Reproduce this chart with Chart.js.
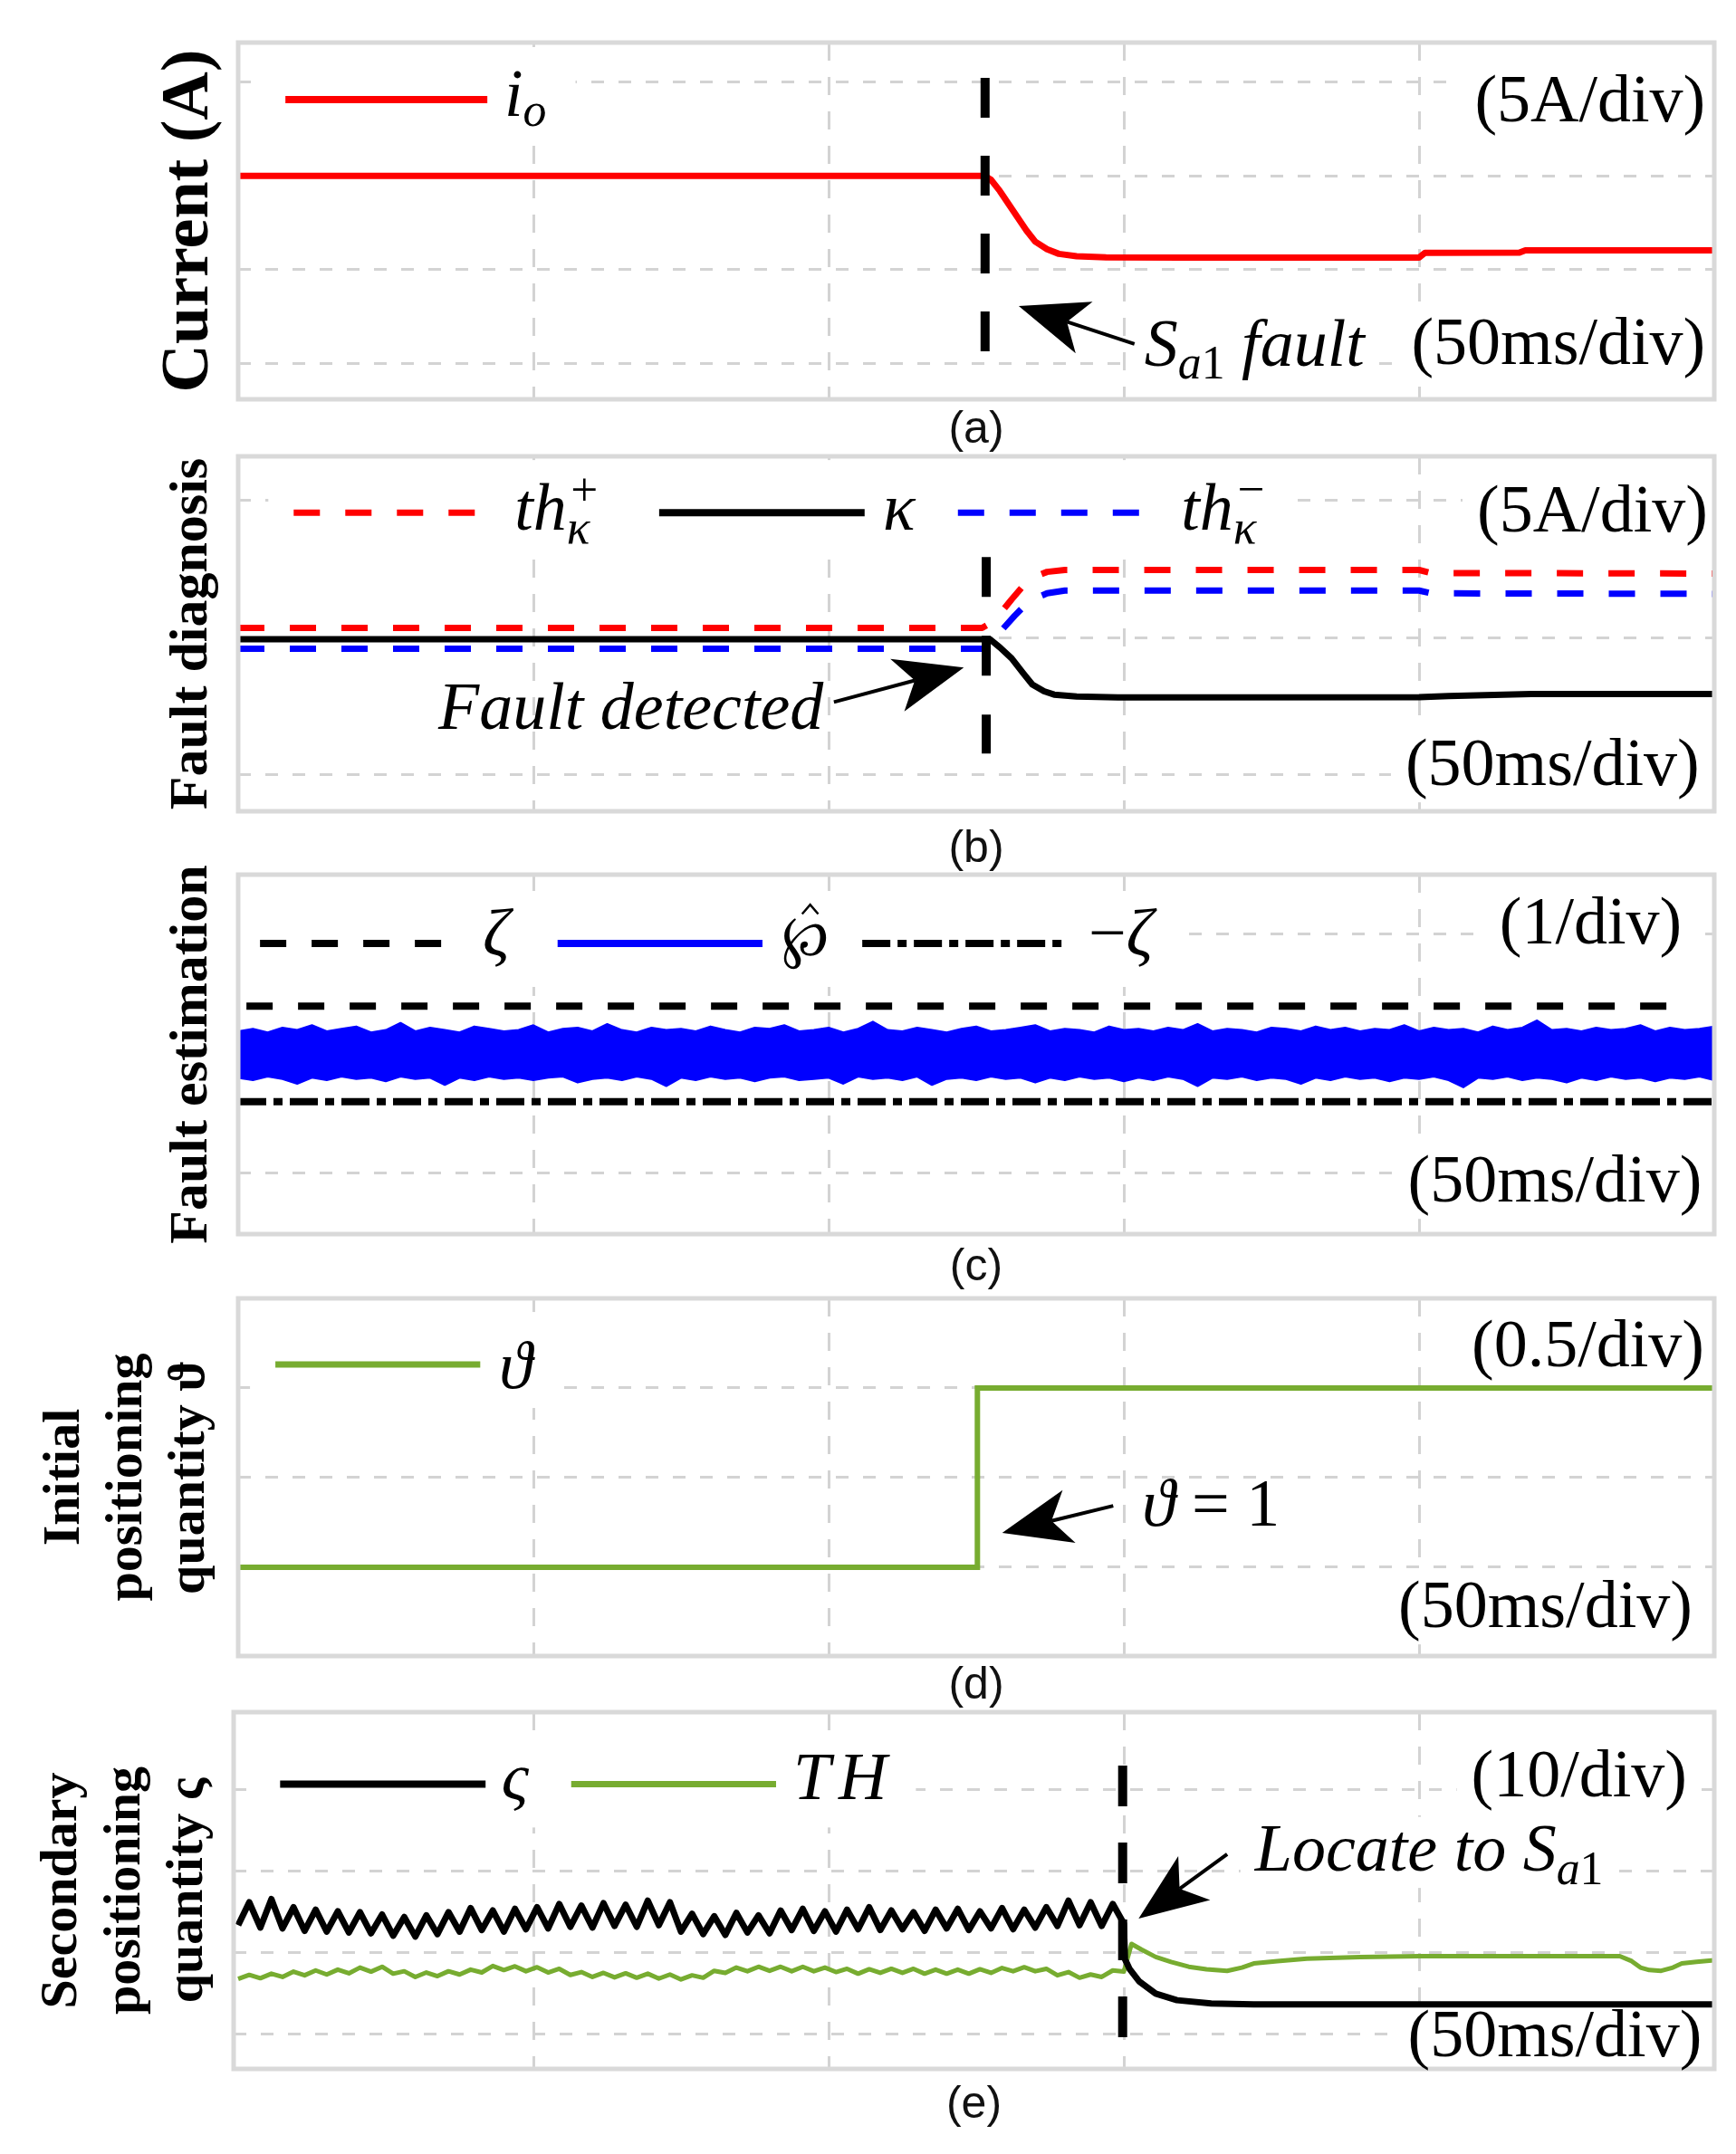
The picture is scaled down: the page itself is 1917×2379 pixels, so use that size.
<!DOCTYPE html>
<html><head><meta charset="utf-8"><title>Fault diagnosis and location</title>
<script src="https://cdn.jsdelivr.net/npm/chart.js@4.4.1/dist/chart.umd.min.js"></script>
<style>
html,body{margin:0;padding:0;background:#fff;overflow:hidden;}
#wrap{position:relative;width:1917px;height:2379px;background:#fff;}
#wrap canvas{position:absolute;left:0;}
</style></head>
<body><div id="wrap"></div>
<script>
// ================= DATA =================
const timeGridMs = [50, 100, 150, 200];
const timeEndMs = 250;

// (a) output current i_o (A)
const ioTime  = [0,126.5,127.5,129,130.5,132,133.5,135,137,139,142,147,160,200,201,217,218,250];
const ioValue = [10,10,9.8,9.2,8.5,7.8,7.1,6.5,6.1,5.85,5.72,5.66,5.65,5.65,5.9,5.92,6.04,6.04];
const gridA = [0,5,10,15];
const faultTimeA = 126.5;
const faultSpanA = [15.23, 0.23];

// (b) fault diagnosis
const thPlusTime  = [0,126,128,131,134,137,140,200,202,250];
const thPlusValue = [5.36,5.36,5.6,6.4,7.15,7.4,7.47,7.47,7.36,7.34];
const thMinusTime  = [0,126.5,129,131.5,134,137,140,200,202,250];
const thMinusValue = [4.6,4.6,5.2,5.8,6.35,6.62,6.72,6.72,6.62,6.6];
const kappaTime  = [0,127.3,129,131,133,134.5,136.5,138.2,142,149,200,205,219,250];
const kappaValue = [4.95,4.95,4.65,4.25,3.7,3.3,3.05,2.93,2.86,2.83,2.84,2.88,2.95,2.95];
const gridB = [0,5,10];
const faultTimeB = 126.7;
const faultSpanB = [7.94, 0.78];

// (c) fault estimation
const zetaTime = [1.4, 245.9];
const zetaValue = [0.4, 0.4];
const negZetaTime = [0, 250];
const negZetaValue = [-0.4, -0.4];
const estStepMs = 2.5;
const estUpper = [
 0.19,0.21,0.18,0.22,0.20,0.24,0.19,0.21,0.23,0.18,
 0.20,0.26,0.19,0.22,0.20,0.18,0.23,0.21,0.19,0.20,
 0.24,0.18,0.21,0.22,0.19,0.25,0.20,0.18,0.22,0.20,
 0.21,0.19,0.23,0.20,0.18,0.22,0.21,0.24,0.19,0.20,
 0.22,0.18,0.21,0.27,0.20,0.19,0.22,0.20,0.18,0.21,
 0.23,0.19,0.20,0.22,0.24,0.19,0.21,0.20,0.18,0.23,
 0.20,0.21,0.19,0.22,0.20,0.25,0.19,0.21,0.20,0.18,
 0.22,0.21,0.19,0.23,0.20,0.22,0.19,0.21,0.20,0.24,
 0.19,0.22,0.20,0.21,0.18,0.23,0.20,0.22,0.28,0.20,
 0.21,0.19,0.22,0.20,0.21,0.24,0.19,0.22,0.20,0.21,
 0.23];
const estLower = [
 -0.20,-0.22,-0.19,-0.21,-0.25,-0.20,-0.22,-0.19,-0.21,-0.20,
 -0.23,-0.19,-0.21,-0.20,-0.26,-0.20,-0.22,-0.19,-0.21,-0.20,
 -0.22,-0.20,-0.19,-0.24,-0.21,-0.20,-0.22,-0.19,-0.21,-0.27,
 -0.20,-0.22,-0.19,-0.21,-0.20,-0.23,-0.20,-0.19,-0.22,-0.21,
 -0.20,-0.25,-0.19,-0.21,-0.20,-0.22,-0.19,-0.26,-0.21,-0.20,
 -0.22,-0.19,-0.21,-0.20,-0.24,-0.20,-0.22,-0.19,-0.21,-0.20,
 -0.23,-0.20,-0.22,-0.19,-0.21,-0.27,-0.20,-0.21,-0.19,-0.22,
 -0.20,-0.21,-0.25,-0.20,-0.22,-0.19,-0.21,-0.20,-0.23,-0.20,
 -0.21,-0.19,-0.22,-0.28,-0.20,-0.21,-0.19,-0.22,-0.20,-0.21,
 -0.24,-0.20,-0.22,-0.19,-0.21,-0.20,-0.23,-0.20,-0.21,-0.19,
 -0.22];
const gridC = [-1,0,1];

// (d) initial positioning quantity
const thetaTime  = [0,125.2,125.2,250];
const thetaValue = [0,0,1,1];
const gridD = [0,0.5,1];

// (e) secondary positioning quantity
const secStepMs = 1.875;
const sigmaPre = [
 13.4,16.2,13.1,16.6,13.0,15.6,12.7,15.3,12.6,15.1,
 12.5,15.0,12.4,14.7,12.1,14.4,12.0,14.6,12.3,15.0,
 12.6,15.5,12.8,15.2,12.6,15.4,12.9,15.6,13.0,16.0,
 13.2,15.8,13.1,16.1,13.3,15.9,13.2,16.4,13.4,16.2,
 12.6,14.8,12.3,14.5,12.2,14.9,12.5,14.6,12.4,15.2,
 12.8,15.4,12.7,15.1,12.6,15.3,12.9,15.6,12.8,15.2,
 12.9,15.0,12.7,15.3,13.0,15.4,12.8,15.1,13.0,15.5,
 12.9,15.3,13.1,15.6,13.3,16.4,13.4,16.2,13.3,16.0,
 13.6];
const sigmaPostTime  = [150.2,151,152.6,155.4,159,164.8,172,250];
const sigmaPostValue = [9.2,8.0,6.5,5.0,4.2,3.8,3.7,3.7];
const thPre = [
 6.8,7.3,6.9,7.45,7.05,7.7,7.25,7.85,7.35,7.95,
 7.5,8.2,7.7,8.3,7.45,7.75,7.05,7.6,7.15,7.75,
 7.35,7.95,7.6,8.4,7.9,8.35,7.75,8.25,7.6,8.05,
 7.3,7.65,7.05,7.55,7.0,7.5,6.95,7.45,6.85,7.35,
 6.75,7.25,6.95,7.8,7.55,8.2,7.75,8.3,7.8,8.3,
 7.75,8.3,7.75,8.2,7.65,8.05,7.45,8.0,7.55,8.05,
 7.55,8.05,7.45,7.95,7.45,7.95,7.45,8.0,7.55,8.15,
 7.75,8.25,7.75,8.05,7.25,7.65,6.95,7.35,7.05,7.85,
 7.7];
const thPostTime  = [151.3,153,155.4,158,161,164,167.5,170,172,176,181,190,200,234,236,237.5,239,241,243,244.5,247,250];
const thPostValue = [11.1,10.4,9.5,8.9,8.3,8.0,7.8,8.2,8.7,9.0,9.3,9.5,9.6,9.6,9.0,8.2,7.9,7.8,8.2,8.7,8.9,9.1];
const gridE = [0,10,20,30];
const faultTimeE = 149.8;
const faultSpanE = [32.96, -0.9];

// ================= HELPERS =================
const RED = '#ff0000', BLUE = '#0000ff', GREEN = '#77ac30', BLACK = '#000000';
const SERIF = '"Liberation Serif","Times New Roman",serif';
const SANS = '"Liberation Sans",Arial,sans-serif';
const TXT = 74;

function xy(t, v) { return t.map((x, i) => ({ x: x, y: v[i] })); }
function sampleTimes(n, step) { const out = []; for (let i = 0; i < n; i++) out.push(i * step); return out; }

function segFont(s, size) { return (s.i ? 'italic ' : '') + (size * (s.s || 1)).toFixed(1) + 'px ' + SERIF; }
function richWidth(ctx, segs, size) {
  let w = 0;
  for (const s of segs) {
    if (s.stack) {
      const ss = size * 0.72;
      ctx.font = 'italic ' + ss + 'px ' + SERIF; const a = ctx.measureText(s.stack.sub).width;
      ctx.font = ss + 'px ' + SERIF; const b = ctx.measureText(s.stack.sup).width;
      w += Math.max(a, b + size * 0.06);
    } else {
      ctx.font = segFont(s, size);
      w += ctx.measureText(s.t).width + (s.gap || 0) * size;
    }
  }
  return w;
}
function drawRich(ctx, segs, x, y, size, align) {
  const w = richWidth(ctx, segs, size);
  let cx = align === 'right' ? x - w : x;
  ctx.textBaseline = 'alphabetic'; ctx.textAlign = 'left'; ctx.fillStyle = '#000';
  for (const s of segs) {
    if (s.stack) {
      const ss = size * 0.72;
      ctx.font = 'italic ' + ss + 'px ' + SERIF; const a = ctx.measureText(s.stack.sub).width;
      ctx.fillText(s.stack.sub, cx, y + 0.2 * size);
      ctx.font = ss + 'px ' + SERIF; const b = ctx.measureText(s.stack.sup).width;
      ctx.fillText(s.stack.sup, cx + size * 0.06, y - 0.36 * size);
      cx += Math.max(a, b + size * 0.06);
    } else {
      cx += (s.gap || 0) * size;
      ctx.font = segFont(s, size);
      const m = ctx.measureText(s.t);
      const mw = m.width;
      const ty = y + (s.dy || 0) * size;
      ctx.fillText(s.t, cx, ty);
      if (s.hat) {
        const asc = m.actualBoundingBoxAscent || 0.55 * size;
        const hx = cx + mw * 0.6;
        const base = ty - asc - 0.06 * size;
        ctx.save();
        ctx.setLineDash([]); ctx.strokeStyle = '#000'; ctx.lineWidth = 2.5; ctx.lineJoin = 'miter';
        ctx.beginPath();
        ctx.moveTo(hx - 0.12 * size, base);
        ctx.lineTo(hx, base - 0.14 * size);
        ctx.lineTo(hx + 0.12 * size, base);
        ctx.stroke();
        ctx.restore();
      }
      cx += mw;
    }
  }
  return w;
}
function drawArrow(ctx, x1, y1, x2, y2) {
  const dx = x2 - x1, dy = y2 - y1, len = Math.hypot(dx, dy);
  const ux = dx / len, uy = dy / len, nx = -uy, ny = ux;
  const L = 76, W = 30, N = 20;
  const bx = x2 - ux * L, by = y2 - uy * L, mx = x2 - ux * (L - N), my = y2 - uy * (L - N);
  ctx.setLineDash([]); ctx.strokeStyle = '#000'; ctx.lineWidth = 4;
  ctx.beginPath(); ctx.moveTo(x1, y1); ctx.lineTo(mx, my); ctx.stroke();
  ctx.fillStyle = '#000';
  ctx.beginPath(); ctx.moveTo(x2, y2); ctx.lineTo(bx + nx * W, by + ny * W); ctx.lineTo(mx, my); ctx.lineTo(bx - nx * W, by - ny * W); ctx.closePath(); ctx.fill();
}

const annotPlugin = {
  id: 'annot',
  beforeDatasetsDraw(chart, args, o) {
    const ctx = chart.ctx, x = chart.scales.x, y = chart.scales.y;
    ctx.save(); ctx.fillStyle = '#fff';
    if (o.legend) {
      const L = o.legend, last = L.items[L.items.length - 1];
      const x0 = x.getPixelForValue(L.items[0].x0) - 28;
      const x1 = x.getPixelForValue(last.lx) + richWidth(ctx, last.label, TXT) + 32;
      const yc = y.getPixelForValue(L.y);
      ctx.fillRect(x0, yc - 58, x1 - x0, 106);
    }
    for (const t of (o.texts || [])) {
      if (t.noBox) continue;
      const w = richWidth(ctx, t.segs, TXT);
      const px = x.getPixelForValue(t.x), py = y.getPixelForValue(t.y);
      const left = t.align === 'right' ? px - w : px;
      ctx.fillRect(left - 16, py - 0.8 * TXT, w + 32, 1.06 * TXT);
    }
    ctx.restore();
  },
  afterDatasetsDraw(chart, args, o) {
    const ctx = chart.ctx, a = chart.chartArea, x = chart.scales.x, y = chart.scales.y;
    ctx.save();
    ctx.setLineDash([]); ctx.strokeStyle = '#d9d9d9'; ctx.lineWidth = 5;
    ctx.strokeRect(a.left, a.top, a.right - a.left, a.bottom - a.top);
    if (o.legend) {
      const L = o.legend, yc = y.getPixelForValue(L.y), yl = y.getPixelForValue(L.ly);
      for (const it of L.items) {
        ctx.save();
        ctx.strokeStyle = it.color; ctx.lineWidth = it.width; ctx.lineCap = 'butt';
        ctx.setLineDash(it.dash || []);
        ctx.beginPath(); ctx.moveTo(x.getPixelForValue(it.x0), yc); ctx.lineTo(x.getPixelForValue(it.x1), yc); ctx.stroke();
        ctx.restore();
        drawRich(ctx, it.label, x.getPixelForValue(it.lx), yl, TXT, 'left');
      }
    }
    for (const t of (o.texts || [])) {
      drawRich(ctx, t.segs, x.getPixelForValue(t.x), y.getPixelForValue(t.y), TXT, t.align);
    }
    for (const ar of (o.arrows || [])) {
      drawArrow(ctx, x.getPixelForValue(ar.from[0]), y.getPixelForValue(ar.from[1]),
                     x.getPixelForValue(ar.to[0]), y.getPixelForValue(ar.to[1]));
    }
    ctx.restore();
  }
};

const wrap = document.getElementById('wrap');
const PAD_TOP = 10, X_AXIS_H = 80, RIGHT = 1893, CW = 1917;
function makePanel(p) {
  const cv = document.createElement('canvas');
  const h = p.bottom - p.top + PAD_TOP + X_AXIS_H;
  cv.width = CW; cv.height = h;
  cv.style.width = CW + 'px'; cv.style.height = h + 'px';
  cv.style.top = (p.top - PAD_TOP) + 'px';
  wrap.appendChild(cv);
  return new Chart(cv.getContext('2d'), {
    type: 'line',
    data: { datasets: p.datasets },
    plugins: [annotPlugin],
    options: {
      responsive: false, animation: false, events: [],
      layout: { padding: { top: PAD_TOP, right: CW - RIGHT, bottom: 0, left: 0 } },
      elements: { point: { radius: 0, hoverRadius: 0 }, line: { tension: 0, borderJoinStyle: 'round', borderCapStyle: 'butt', fill: false } },
      plugins: { legend: { display: false }, tooltip: { enabled: false }, annot: p.annot },
      scales: {
        x: {
          type: 'linear', min: p.xMin, max: timeEndMs,
          afterBuildTicks: s => { s.ticks = timeGridMs.map(v => ({ value: v })); },
          afterFit: s => { s.height = X_AXIS_H; },
          ticks: { display: false },
          grid: { color: '#d3d3d3', lineWidth: 3, drawTicks: false },
          border: { display: false, dash: [20, 18] },
          title: { display: true, text: p.label, color: '#111', font: { family: SANS, size: 50, lineHeight: 1.2 },
                   padding: { top: 0, bottom: X_AXIS_H - p.labelOff - 30 } }
        },
        y: {
          type: 'linear', min: p.yMin, max: p.yMax,
          afterBuildTicks: s => { s.ticks = p.yGrid.map(v => ({ value: v })); },
          afterFit: s => { s.width = p.left; },
          ticks: { display: false },
          grid: { color: '#d3d3d3', lineWidth: 3, drawTicks: false },
          border: { display: false, dash: [14, 16] },
          title: { display: true, text: p.yTitle, color: '#000',
                   font: { family: SERIF, size: p.yTitleSize, weight: 'bold', lineHeight: p.yTitleLH },
                   padding: { top: p.yTitlePad, bottom: 0 } }
        }
      }
    }
  });
}

// ---- (a) ----
makePanel({
  top: 47, bottom: 441, left: 263, xMin: 0, yMin: -1.9, yMax: 17.11, yGrid: gridA,
  yTitle: 'Current (A)', yTitleSize: 74, yTitleLH: 1.2, yTitlePad: 165.6,
  label: '(a)', labelOff: 34,
  datasets: [
    { data: xy([faultTimeA, faultTimeA], faultSpanA), borderColor: BLACK, borderWidth: 10, borderDash: [44, 42] },
    { data: xy(ioTime, ioValue), borderColor: RED, borderWidth: 7 }
  ],
  annot: {
    legend: { y: 14.07, ly: 13.2, items: [
      { x0: 8.0, x1: 42.2, color: RED, width: 8, lx: 45.1, label: [{ t: 'i', i: 1 }, { t: 'o', i: 1, s: 0.7, dy: 0.15 }] }
    ] },
    texts: [
      { x: 248.5, y: 12.9, align: 'right', segs: [{ t: '(5A/div)' }] },
      { x: 248.5, y: 0, align: 'right', segs: [{ t: '(50ms/div)' }] },
      { x: 153.5, y: -0.1, align: 'left', segs: [{ t: 'S', i: 1 }, { t: 'a', i: 1, s: 0.7, dy: 0.2 }, { t: '1', s: 0.7, dy: 0.2 }, { t: ' fault', i: 1 }] }
    ],
    arrows: [{ from: [151.8, 1.05], to: [132.2, 3.07] }]
  }
});

// ---- (b) ----
makePanel({
  top: 504, bottom: 896, left: 263, xMin: 0, yMin: -1.32, yMax: 11.61, yGrid: gridB,
  yTitle: 'Fault diagnosis', yTitleSize: 60, yTitleLH: 1.2, yTitlePad: 176,
  label: '(b)', labelOff: 42,
  datasets: [
    { data: xy([faultTimeB, faultTimeB], faultSpanB), borderColor: BLACK, borderWidth: 10, borderDash: [44, 43] },
    { data: xy(kappaTime, kappaValue), borderColor: BLACK, borderWidth: 7 },
    { data: xy(thPlusTime, thPlusValue), borderColor: RED, borderWidth: 7, borderDash: [29, 28] },
    { data: xy(thMinusTime, thMinusValue), borderColor: BLUE, borderWidth: 7, borderDash: [29, 28] }
  ],
  annot: {
    legend: { y: 9.56, ly: 8.94, items: [
      { x0: 9.4, x1: 40.5, color: RED, width: 7, dash: [29, 28], lx: 46.8, label: [{ t: 'th', i: 1 }, { stack: { sup: '+', sub: 'κ' } }] },
      { x0: 71.3, x1: 106.1, color: BLACK, width: 8, lx: 109.2, label: [{ t: 'κ', i: 1 }] },
      { x0: 121.9, x1: 153.4, color: BLUE, width: 7, dash: [29, 28], lx: 159.7, label: [{ t: 'th', i: 1 }, { stack: { sup: '−', sub: 'κ' } }] }
    ] },
    texts: [
      { x: 248.9, y: 8.87, align: 'right', segs: [{ t: '(5A/div)' }] },
      { x: 247.5, y: -0.36, align: 'right', segs: [{ t: '(50ms/div)' }] },
      { x: 33.9, y: 1.68, align: 'left', noBox: true, segs: [{ t: 'Fault detected', i: 1 }] }
    ],
    arrows: [{ from: [100.9, 2.66], to: [122.9, 3.92] }]
  }
});

// ---- (c) ----
const estTime = sampleTimes(Math.min(estUpper.length, estLower.length), estStepMs);
makePanel({
  top: 966, bottom: 1363, left: 263, xMin: 0, yMin: -1.508, yMax: 1.5, yGrid: gridC,
  yTitle: 'Fault estimation', yTitleSize: 60, yTitleLH: 1.2, yTitlePad: 176,
  label: '(c)', labelOff: 37,
  datasets: [
    { data: xy(zetaTime, zetaValue), borderColor: BLACK, borderWidth: 8, borderDash: [29, 28] },
    { data: xy(negZetaTime, negZetaValue), borderColor: BLACK, borderWidth: 8, borderDash: [31, 8, 10, 8] },
    { data: xy(estTime, estUpper), borderColor: BLUE, borderWidth: 2, backgroundColor: BLUE, fill: '+1' },
    { data: xy(estTime, estLower), borderColor: BLUE, borderWidth: 2 }
  ],
  annot: {
    legend: { y: 0.924, ly: 0.826, items: [
      { x0: 3.7, x1: 35.1, color: BLACK, width: 8, dash: [29, 28], lx: 41.4, label: [{ t: 'ζ', i: 1 }] },
      { x0: 54.1, x1: 88.8, color: BLUE, width: 8, lx: 92, label: [{ t: '℘', s: 0.85, hat: 1 }] },
      { x0: 105.7, x1: 140.2, color: BLACK, width: 8, dash: [31, 8, 10, 8], lx: 144, label: [{ t: '−' }, { t: 'ζ', i: 1 }] }
    ] },
    texts: [
      { x: 244.5, y: 0.924, align: 'right', segs: [{ t: '(1/div)' }] },
      { x: 247.9, y: -1.235, align: 'right', segs: [{ t: '(50ms/div)' }] }
    ]
  }
});

// ---- (d) ----
makePanel({
  top: 1434, bottom: 1829, left: 263, xMin: 0, yMin: -0.495, yMax: 1.5, yGrid: gridD,
  yTitle: ['Initial', 'positioning', 'quantity ϑ'], yTitleSize: 58, yTitleLH: 1.19, yTitlePad: 37.5,
  label: '(d)', labelOff: 33,
  datasets: [
    { data: xy(thetaTime, thetaValue), borderColor: GREEN, borderWidth: 6, borderJoinStyle: 'miter' }
  ],
  annot: {
    legend: { y: 1.131, ly: 1.0, items: [
      { x0: 6.3, x1: 41, color: GREEN, width: 7, lx: 44.2, label: [{ t: 'ϑ', i: 1 }] }
    ] },
    texts: [
      { x: 248.3, y: 1.121, align: 'right', segs: [{ t: '(0.5/div)' }] },
      { x: 246.3, y: -0.333, align: 'right', segs: [{ t: '(50ms/div)' }] },
      { x: 153.1, y: 0.232, align: 'left', noBox: true, segs: [{ t: 'ϑ', i: 1 }, { t: ' = 1' }] }
    ],
    arrows: [{ from: [148.2, 0.343], to: [129.4, 0.192] }]
  }
});

// ---- (e) ----
const secTime = sampleTimes(sigmaPre.length, secStepMs);
makePanel({
  top: 1891, bottom: 2285, left: 258, xMin: -0.77, yMin: -4.22, yMax: 39.51, yGrid: gridE,
  yTitle: ['Secondary', 'positioning', 'quantity ς'], yTitleSize: 58, yTitleLH: 1.19, yTitlePad: 35,
  label: '(e)', labelOff: 40,
  datasets: [
    { data: xy([faultTimeE, faultTimeE], faultSpanE), borderColor: BLACK, borderWidth: 10, borderDash: [45, 40] },
    { data: xy(secTime.concat(sigmaPostTime), sigmaPre.concat(sigmaPostValue)), borderColor: BLACK, borderWidth: 7 },
    { data: xy(secTime.concat(thPostTime), thPre.concat(thPostValue)), borderColor: GREEN, borderWidth: 5 }
  ],
  annot: {
    legend: { y: 30.7, ly: 28.9, items: [
      { x0: 7.1, x1: 41.9, color: BLACK, width: 8, lx: 44.6, label: [{ t: 'ς', i: 1 }] },
      { x0: 56.4, x1: 91.1, color: GREEN, width: 7, lx: 94, label: [{ t: 'T', i: 1 }, { t: 'H', i: 1, gap: 0.12 }] }
    ] },
    texts: [
      { x: 245.4, y: 29.2, align: 'right', segs: [{ t: '(10/div)' }] },
      { x: 247.9, y: -2.66, align: 'right', segs: [{ t: '(50ms/div)' }] },
      { x: 172.2, y: 20.1, align: 'left', segs: [{ t: 'Locate to ', i: 1 }, { t: 'S', i: 1 }, { t: 'a', i: 1, s: 0.7, dy: 0.2 }, { t: '1', s: 0.7, dy: 0.2 }] }
    ],
    arrows: [{ from: [167.5, 22.1], to: [152.5, 14.2] }]
  }
});
</script>
</body></html>
